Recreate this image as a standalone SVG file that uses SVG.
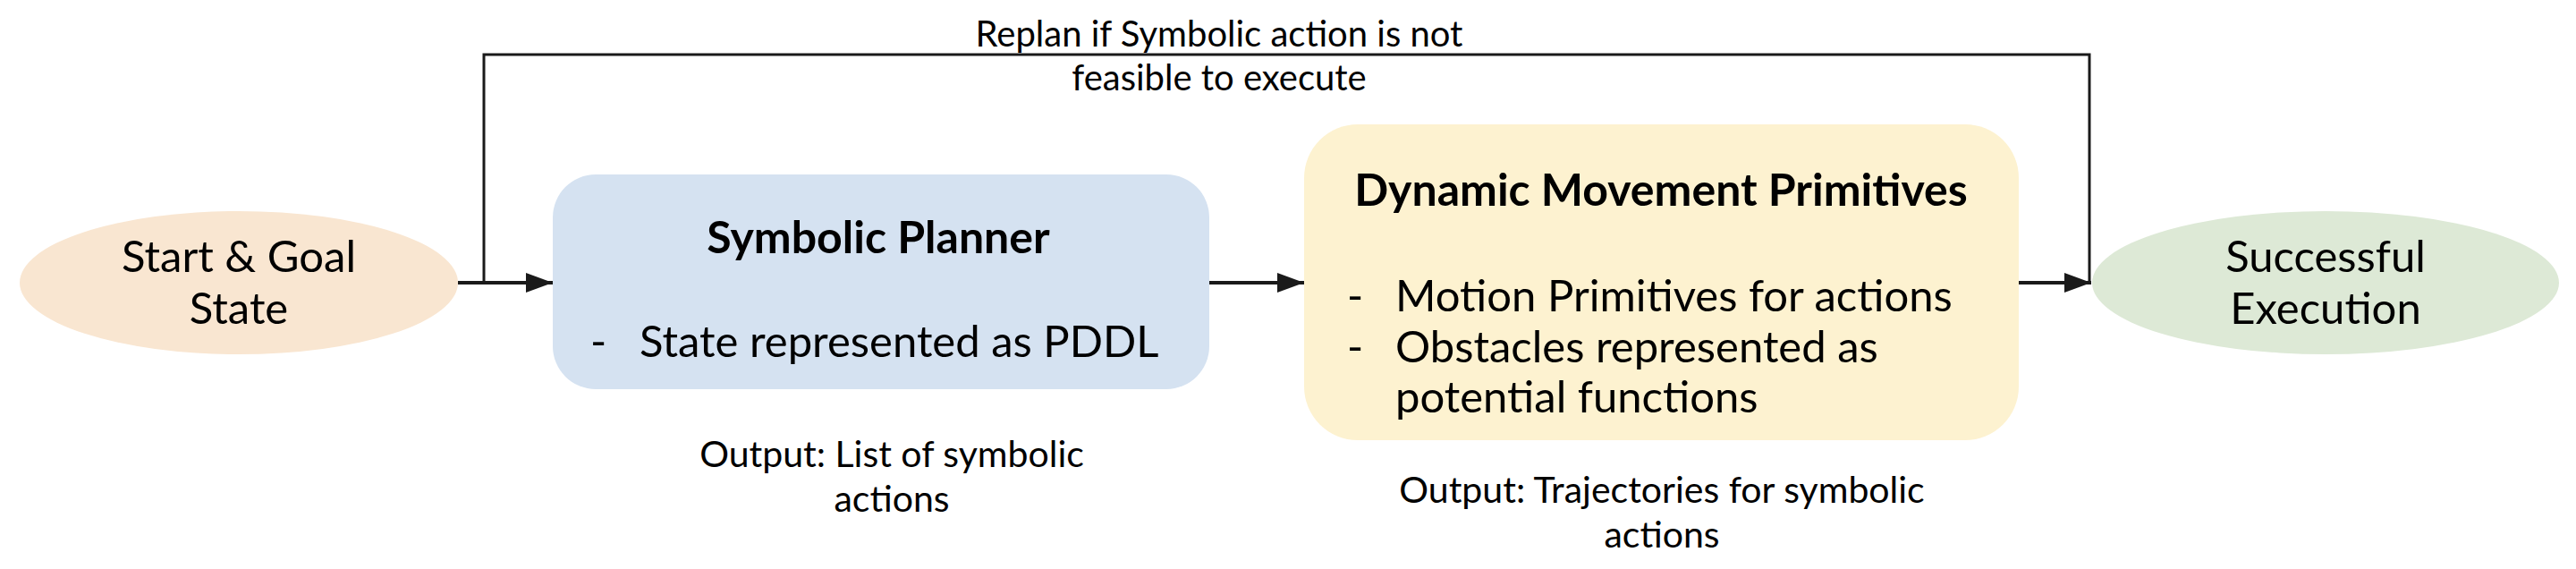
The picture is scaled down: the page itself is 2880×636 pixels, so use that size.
<svg xmlns="http://www.w3.org/2000/svg" width="2880" height="636" viewBox="0 0 2880 636">
<defs>
<style>
text{font-family:Lato,"Open Sans","Liberation Sans",sans-serif;fill:#000}
.n{font-size:49px}
.b{font-size:50px;font-weight:bold}
.l{font-size:40px}
.o{font-size:41px}
.c{text-anchor:middle}
.e{fill:none;stroke:#1a1a1a;stroke-width:4}
.t{fill:none;stroke:#1a1a1a;stroke-width:3}
</style>
<marker id="ah" viewBox="0 0 30 22" refX="30" refY="11" markerWidth="30" markerHeight="22" markerUnits="userSpaceOnUse" orient="auto">
<path d="M0,0 L30,11 L0,22 Z" fill="#1a1a1a"/>
</marker>
</defs>
<rect width="2880" height="636" fill="#fff"/>
<g id="connectors">
<path class="e" d="M512,316 H618" marker-end="url(#ah)"/>
<path class="e" d="M1352,316 H1458" marker-end="url(#ah)"/>
<path class="e" d="M2257,316 H2338" marker-end="url(#ah)"/>
<path class="t" d="M541,316 V61 H2336 V316"/>
<text class="l c" x="1363" y="52">Replan if Symbolic action is not</text>
<text class="l c" x="1363" y="101">feasible to execute</text>
</g>
<g id="start">
<ellipse cx="267" cy="316" rx="245" ry="80" fill="#f9e6d1"/>
<text class="n c" x="267" y="304">Start &amp; Goal</text>
<text class="n c" x="267" y="362">State</text>
</g>
<g id="planner">
<rect x="618" y="195" width="734" height="240" rx="48" fill="#d5e2f1"/>
<text class="b c" x="982" y="283">Symbolic Planner</text>
<text class="n" x="660" y="399">-</text>
<text class="n" x="715" y="399">State represented as PDDL</text>
<text class="o c" x="997" y="522">Output: List of symbolic</text>
<text class="o c" x="997" y="572">actions</text>
</g>
<g id="dmp">
<rect x="1458" y="139" width="799" height="353" rx="60" fill="#fdf2d0"/>
<text class="b c" x="1857" y="230">Dynamic Movement Primitives</text>
<text class="n" x="1506" y="348">-</text>
<text class="n" x="1560" y="348">Motion Primitives for actions</text>
<text class="n" x="1506" y="405">-</text>
<text class="n" x="1560" y="405">Obstacles represented as</text>
<text class="n" x="1560" y="461">potential functions</text>
<text class="o c" x="1858" y="562">Output: Trajectories for symbolic</text>
<text class="o c" x="1858" y="612">actions</text>
</g>
<g id="success">
<ellipse cx="2600" cy="316" rx="261" ry="80" fill="#dde9d6"/>
<text class="n c" x="2600" y="304">Successful</text>
<text class="n c" x="2600" y="362">Execution</text>
</g>
</svg>
